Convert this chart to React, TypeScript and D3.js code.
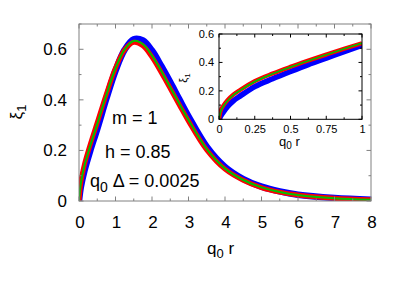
import React from "react";
import * as d3 from "d3";

// main panel: q0 r samples and the three xi_1 curves
const rVals = [0, 0.05, 0.15, 0.3, 0.5, 0.75, 1, 1.25, 1.5, 1.75, 2, 2.25, 2.5, 2.75, 3, 3.5, 4, 4.5, 5, 5.5, 6, 7, 8];
const blueVals = [0, 0.055, 0.12, 0.195, 0.285, 0.405, 0.515, 0.598, 0.64, 0.635, 0.595, 0.535, 0.47, 0.402, 0.335, 0.215, 0.135, 0.087, 0.057, 0.038, 0.025, 0.012, 0.005];
const redVals = [0, 0.075, 0.145, 0.22, 0.31, 0.423, 0.526, 0.598, 0.628, 0.614, 0.569, 0.509, 0.445, 0.38, 0.316, 0.202, 0.126, 0.082, 0.053, 0.035, 0.024, 0.011, 0.005];
const greenVals = [0, 0.07, 0.14, 0.215, 0.305, 0.42, 0.525, 0.6, 0.633, 0.62, 0.575, 0.515, 0.45, 0.385, 0.32, 0.205, 0.128, 0.083, 0.054, 0.036, 0.024, 0.011, 0.005];

// inset panel: close-up of 0 <= q0 r <= 1
const insetR = [0, 0.01, 0.03, 0.06, 0.1, 0.15, 0.25, 0.375, 0.5, 0.625, 0.75, 0.875, 1];
const insetBlue = [0, 0.02, 0.05, 0.09, 0.13, 0.165, 0.23, 0.285, 0.336, 0.385, 0.43, 0.476, 0.52];
const insetRed = [0, 0.055, 0.095, 0.135, 0.173, 0.208, 0.268, 0.322, 0.369, 0.413, 0.455, 0.496, 0.535];
const insetGreen = [0, 0.05, 0.09, 0.13, 0.17, 0.205, 0.265, 0.32, 0.367, 0.412, 0.454, 0.496, 0.536];

const xTicks = [0, 1, 2, 3, 4, 5, 6, 7, 8];
const yTicks = [0, 0.2, 0.4, 0.6];
const insetXTicks = [0, 0.25, 0.5, 0.75, 1];
const insetYTicks = [0, 0.2, 0.4, 0.6];

const colors = ["#0000ff", "#ff0000", "#00c000"];
const widths = [6.5, 5, 2];

const font = "'Liberation Sans', Arial, sans-serif";

const App = () => {
  // main panel
  const x = d3.scaleLinear().domain([0, 8]).range([79, 371]);
  const y = d3.scaleLinear().domain([0, 0.7]).range([201, 24]);
  // inset panel
  const ix = d3.scaleLinear().domain([0, 1]).range([219, 362]);
  const iy = d3.scaleLinear().domain([0, 0.6]).range([119.3, 34]);

  const mainLine = d3
    .line()
    .x((d) => x(d[0]))
    .y((d) => y(d[1]))
    .curve(d3.curveCatmullRom.alpha(0.5));
  const insetLine = d3
    .line()
    .x((d) => ix(d[0]))
    .y((d) => iy(d[1]))
    .curve(d3.curveMonotoneX);

  const mainSeries = [blueVals, redVals, greenVals].map((vals) => rVals.map((r, i) => [r, vals[i]]));
  const insetSeries = [insetBlue, insetRed, insetGreen].map((vals) => insetR.map((r, i) => [r, vals[i]]));

  const gray = "#808080";
  const xMinor = d3.range(0, 8.01, 0.5);
  const yMinor = d3.range(0, 0.701, 0.1);
  const ixMinor = d3.range(0, 1.001, 0.125);
  const iyMinor = d3.range(0, 0.601, 0.1);

  return (
    <svg width={407} height={285} style={{ position: "absolute", left: 0, top: 0, background: "#fff" }} fontFamily={font}>
      <defs>
        <clipPath id="mainClip">
          <rect x={79} y={24} width={293} height={177} />
        </clipPath>
        <clipPath id="insetClip">
          <rect x={219} y={34} width={143} height={85.3} />
        </clipPath>
      </defs>

      {/* main curves */}
      <g clipPath="url(#mainClip)">
        {mainSeries.map((s, i) => (
          <path key={i} d={mainLine(s)} fill="none" stroke={colors[i]} strokeWidth={widths[i]} />
        ))}
      </g>

      {/* main frame and ticks */}
      <rect x={79} y={24} width={292} height={177} fill="none" stroke={gray} strokeWidth={1} />
      {xMinor.map((t, i) => {
        const len = i % 2 === 0 ? 4.5 : 2.5;
        return (
          <g key={"xt" + i} stroke={gray}>
            <line x1={x(t)} x2={x(t)} y1={201} y2={201 - len} />
            <line x1={x(t)} x2={x(t)} y1={24} y2={24 + len} />
          </g>
        );
      })}
      {yMinor.map((t, i) => {
        const len = i % 2 === 0 ? 4.5 : 2.5;
        return (
          <g key={"yt" + i} stroke={gray}>
            <line x1={79} x2={79 + len} y1={y(t)} y2={y(t)} />
            <line x1={371} x2={371 - len} y1={y(t)} y2={y(t)} />
          </g>
        );
      })}
      {xTicks.map((t) => (
        <text key={"xl" + t} x={x(t) + 1} y={228} fontSize={17} textAnchor="middle">
          {t}
        </text>
      ))}
      {yTicks.map((t) => (
        <text key={"yl" + t} x={67} y={y(t) + 6} fontSize={17} textAnchor="end">
          {t === 0 ? "0" : t.toFixed(1)}
        </text>
      ))}
      <text x={207} y={254} fontSize={17}>
        q<tspan dy={4} fontSize={13}>0</tspan>
        <tspan dy={-4}> r</tspan>
      </text>
      <text transform="translate(22,112) rotate(-90)" fontSize={17} textAnchor="middle">
        ξ<tspan dy={4} fontSize={13}>1</tspan>
      </text>

      {/* annotations */}
      <text x={112} y={124} fontSize={18}>m = 1</text>
      <text x={105} y={157.5} fontSize={18}>h = 0.85</text>
      <text x={90} y={186.5} fontSize={18}>
        q<tspan dy={5} fontSize={14}>0</tspan>
        <tspan dy={-5}> Δ = 0.0025</tspan>
      </text>

      {/* inset */}
      <rect x={219} y={34} width={143} height={85.3} fill="#fff" />
      <g clipPath="url(#insetClip)">
        {insetSeries.map((s, i) => (
          <path key={i} d={insetLine(s)} fill="none" stroke={colors[i]} strokeWidth={widths[i] * 0.85} />
        ))}
      </g>
      <rect x={219} y={34} width={143} height={85.3} fill="none" stroke="#000" strokeWidth={1} />
      {ixMinor.map((t, i) => {
        const len = i % 2 === 0 ? 3.5 : 2;
        return (
          <g key={"ixt" + i} stroke="#000">
            <line x1={ix(t)} x2={ix(t)} y1={119.3} y2={119.3 - len} />
            <line x1={ix(t)} x2={ix(t)} y1={34} y2={34 + len} />
          </g>
        );
      })}
      {iyMinor.map((t, i) => {
        const len = i % 2 === 0 ? 3.5 : 2;
        return (
          <g key={"iyt" + i} stroke="#000">
            <line x1={219} x2={219 + len} y1={iy(t)} y2={iy(t)} />
            <line x1={362} x2={362 - len} y1={iy(t)} y2={iy(t)} />
          </g>
        );
      })}
      {insetXTicks.map((t) => (
        <text key={"ixl" + t} x={ix(t) + 0.5} y={133} fontSize={11} textAnchor="middle">
          {t}
        </text>
      ))}
      {insetYTicks.map((t) => (
        <text key={"iyl" + t} x={214} y={iy(t) + 4} fontSize={11} textAnchor="end">
          {t === 0 ? "0" : t.toFixed(1)}
        </text>
      ))}
      <text x={279} y={146} fontSize={13}>
        q<tspan dy={3} fontSize={10}>0</tspan>
        <tspan dy={-3}> r</tspan>
      </text>
      <text transform="translate(187,78) rotate(-90)" fontSize={11} textAnchor="middle">
        ξ<tspan dy={3} fontSize={8}>1</tspan>
      </text>
    </svg>
  );
};

export default App;
